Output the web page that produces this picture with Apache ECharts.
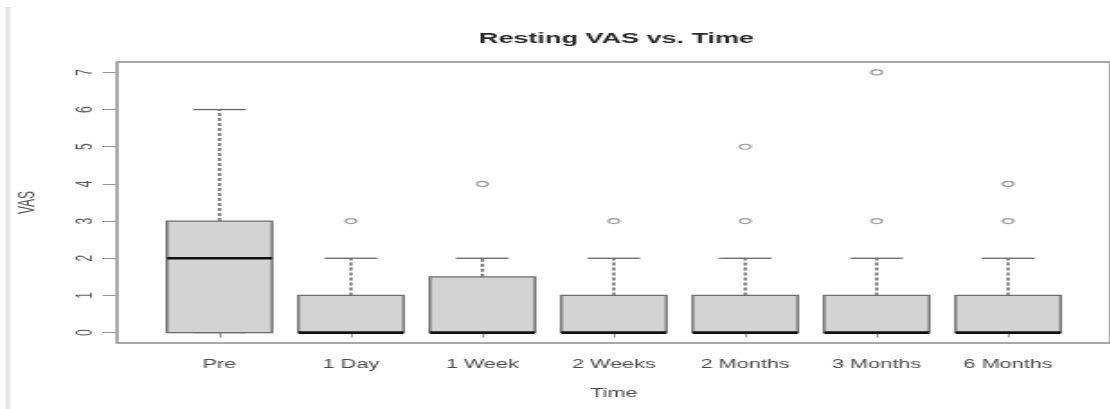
<!DOCTYPE html>
<html>
<head>
<meta charset="utf-8">
<script src="https://cdn.jsdelivr.net/npm/echarts@6/dist/echarts.min.js"></script>
<style>
  html, body { margin: 0; padding: 0; background: #fff; overflow: hidden; }
  #wrap { width: 1110px; height: 409px; overflow: hidden; position: relative; }
  /* the plot is laid out on a narrow canvas and widened horizontally */
  #chart { width: 617px; height: 409px; transform: scaleX(1.8); transform-origin: 0 0; }
</style>
</head>
<body>
<div id="wrap"><div id="chart"></div></div>
<script>
// Resting VAS scores at each follow-up time point
const categories = ['Pre', '1 Day', '1 Week', '2 Weeks', '2 Months', '3 Months', '6 Months'];
const whiskerLow  = [0, 0, 0, 0, 0, 0, 0];
const quartile1   = [0, 0, 0, 0, 0, 0, 0];
const medians     = [2, 0, 0, 0, 0, 0, 0];
const quartile3   = [3, 1, 1.5, 1, 1, 1, 1];
const whiskerHigh = [6, 2, 2, 2, 2, 2, 2];
const outliers    = [[], [3], [4], [3], [3, 5], [3, 7], [3, 4]];
const yTicks      = [0, 1, 2, 3, 4, 5, 6, 7];

const FONT = "'Liberation Sans', Arial, Helvetica, sans-serif";
const BOX_WIDTH = 0.8;
const positions = categories.map((c, i) => i + 1);

const boxData = positions.map((x, i) =>
  [x, whiskerLow[i], quartile1[i], medians[i], quartile3[i], whiskerHigh[i]]);
const outlierData = [];
outliers.forEach((vals, i) => vals.forEach(v => outlierData.push([positions[i], v])));

const chart = echarts.init(document.getElementById('chart'), null, { renderer: 'canvas' });

chart.setOption({
  animation: false,
  backgroundColor: '#fff',
  title: {
    text: 'Resting VAS vs. Time',
    left: 337.5,
    top: 26,
    textAlign: 'center',
    textStyle: { fontFamily: FONT, fontSize: 15, fontWeight: 'bold', color: '#2a2a2a' }
  },
  graphic: [{
    type: 'rect',
    shape: { x: 3.3, y: 7, width: 2.2, height: 402 },
    style: { fill: '#e2e2e2' },
    silent: true
  }],
  grid: {
    left: 65, top: 62, width: 554.4, height: 281,
    show: true, borderColor: '#8c8c8c', borderWidth: 1.5, backgroundColor: 'transparent'
  },
  xAxis: {
    type: 'value',
    min: 0.22, max: 7.78,
    name: 'Time',
    nameLocation: 'middle',
    nameGap: 45,
    nameTextStyle: { fontFamily: FONT, fontSize: 12, color: '#4a4a4a' },
    axisLine: { show: false },
    splitLine: { show: false },
    axisTick: { show: true, length: 5, customValues: positions, lineStyle: { color: '#999' } },
    axisLabel: {
      customValues: positions,
      margin: 16,
      fontFamily: FONT, fontSize: 12, color: '#4a4a4a',
      formatter: v => categories[Math.round(v) - 1] || ''
    }
  },
  yAxis: {
    type: 'value',
    min: -0.28, max: 7.28,
    name: 'VAS',
    nameLocation: 'middle',
    nameGap: 43,
    nameRotate: 90,
    nameTextStyle: { fontFamily: FONT, fontSize: 12, color: '#4a4a4a' },
    axisLine: { show: false },
    splitLine: { show: false },
    axisTick: { show: true, length: 8, customValues: yTicks, lineStyle: { color: '#999' } },
    axisLabel: {
      customValues: yTicks,
      rotate: 90,
      margin: 11,
      fontFamily: FONT, fontSize: 12, color: '#5a5a5a'
    }
  },
  series: [{
    type: 'custom',
    data: boxData,
    encode: { x: 0, y: [1, 2, 3, 4, 5] },
    renderItem(params, api) {
      const x = api.value(0);
      const half = api.size([BOX_WIDTH, 0])[0] / 2;
      const capHalf = half / 2;
      const pLo = api.coord([x, api.value(1)]);
      const pQ1 = api.coord([x, api.value(2)]);
      const pMed = api.coord([x, api.value(3)]);
      const pQ3 = api.coord([x, api.value(4)]);
      const pHi = api.coord([x, api.value(5)]);
      const cx = pMed[0];
      const whiskerStyle = { stroke: '#666', lineWidth: 1.5, lineDash: [3, 2] };
      const capStyle = { stroke: '#666', lineWidth: 1.3 };
      return {
        type: 'group',
        children: [
          { type: 'line', shape: { x1: cx, y1: pQ3[1], x2: cx, y2: pHi[1] }, style: whiskerStyle },
          { type: 'line', shape: { x1: cx, y1: pQ1[1], x2: cx, y2: pLo[1] }, style: whiskerStyle },
          { type: 'line', shape: { x1: cx - capHalf, y1: pHi[1], x2: cx + capHalf, y2: pHi[1] }, style: capStyle },
          { type: 'line', shape: { x1: cx - capHalf, y1: pLo[1], x2: cx + capHalf, y2: pLo[1] }, style: capStyle },
          { type: 'rect', shape: { x: cx - half, y: pQ3[1], width: half * 2, height: pQ1[1] - pQ3[1] },
            style: { fill: '#d3d3d3', stroke: '#6e6e6e', lineWidth: 1.4 } },
          { type: 'line', shape: { x1: cx - half, y1: pMed[1], x2: cx + half, y2: pMed[1] },
            style: { stroke: '#111', lineWidth: 2.6 } }
        ]
      };
    }
  }, {
    type: 'scatter',
    data: outlierData,
    symbol: 'circle',
    symbolSize: [6, 5],
    itemStyle: { color: 'rgba(0,0,0,0)', borderColor: '#888', borderWidth: 1.2 }
  }]
});
</script>
</body>
</html>
